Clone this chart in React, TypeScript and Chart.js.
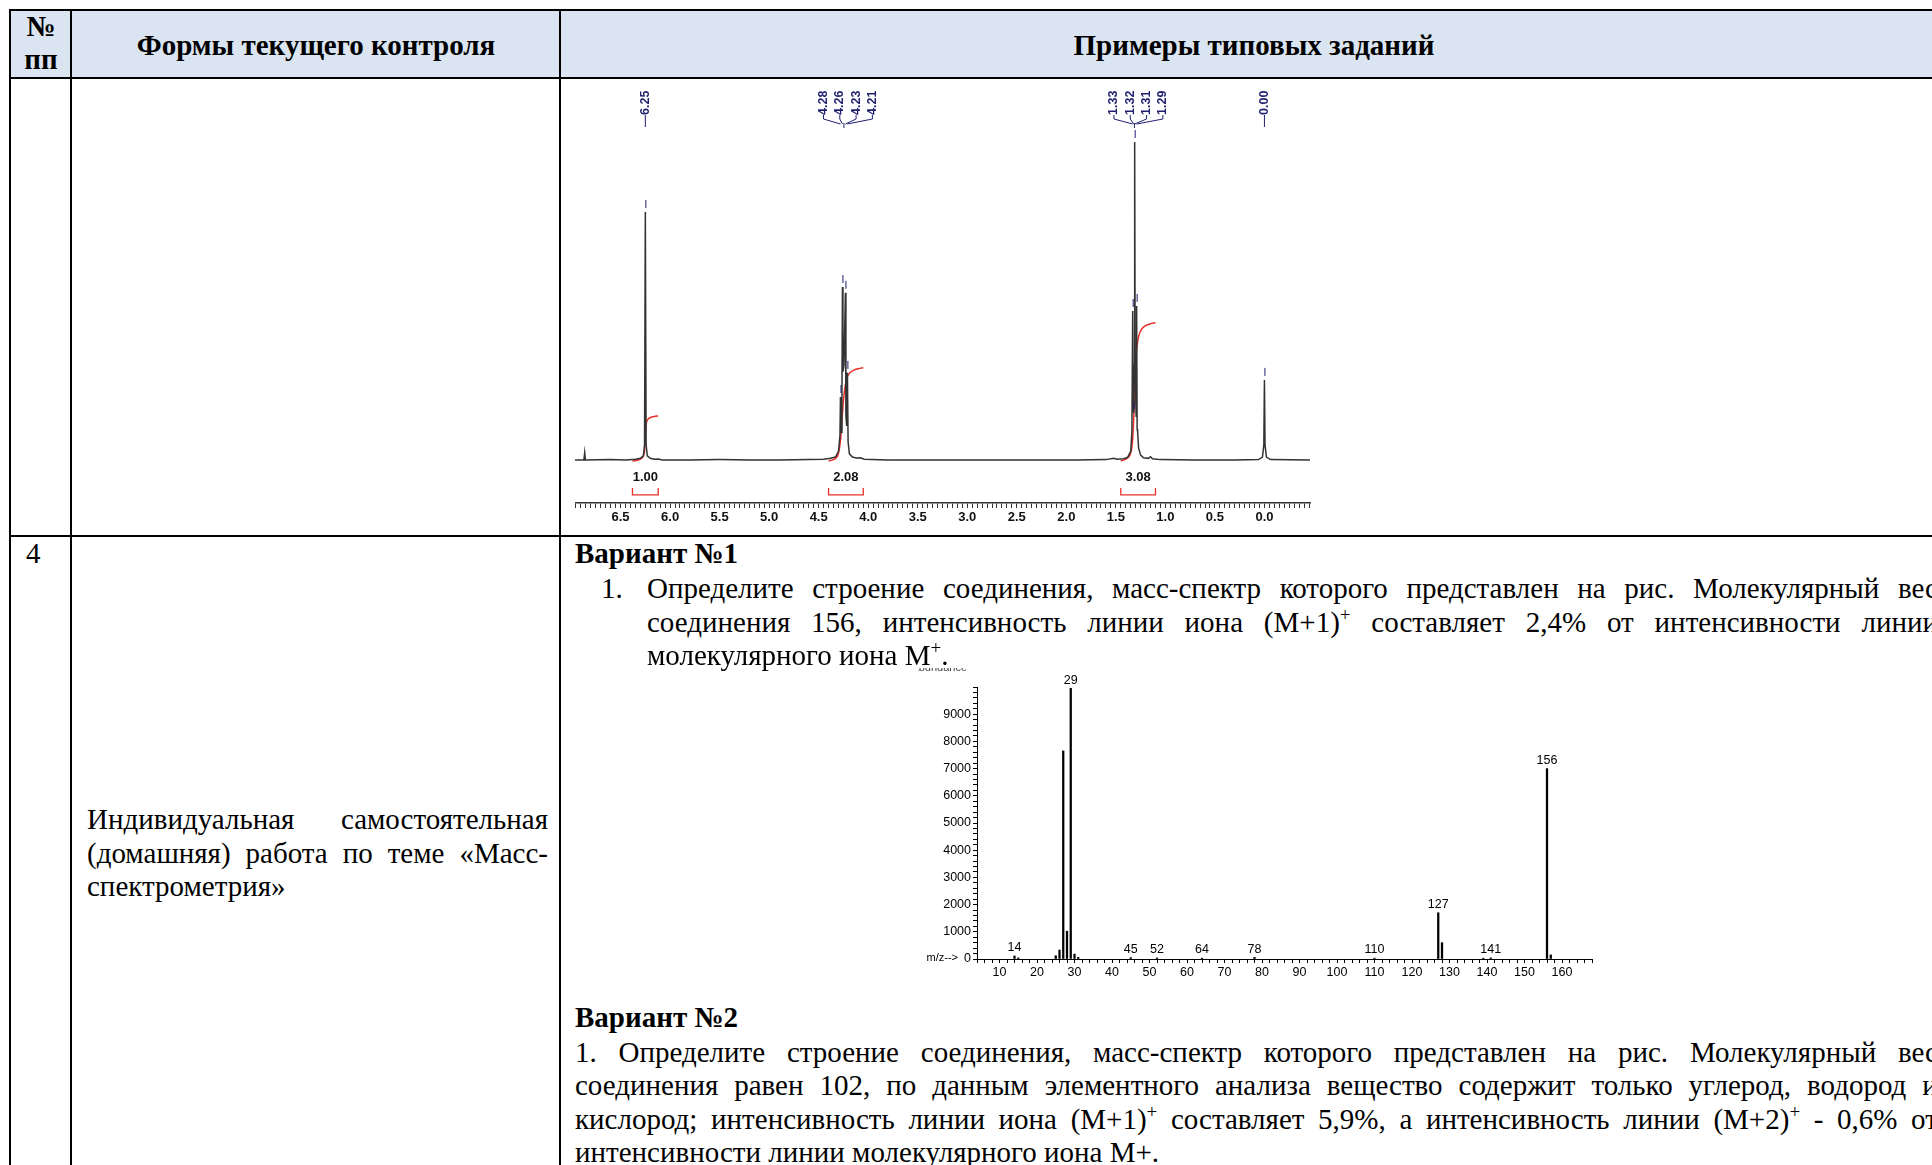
import React, { useEffect, useRef } from 'react';
import { Chart, registerables } from 'chart.js';

Chart.register(...registerables);

// ---------------- 1H NMR spectrum (row 3) ----------------
const nmrShift = [
  6.96, 6.87, 6.862, 6.855, 6.6, 6.45, 6.35, 6.3, 6.27, 6.258, 6.25, 6.242, 6.23, 6.2, 6.16, 6.12, 6.08,
  5.8, 5.5, 5.2, 4.9, 4.6, 4.45, 4.38, 4.33, 4.3, 4.285, 4.28, 4.273, 4.265, 4.26, 4.255, 4.245, 4.23,
  4.225, 4.217, 4.21, 4.203, 4.19, 4.16, 4.12, 4.08, 4.04, 3.8, 3.4, 3.0, 2.6, 2.2, 1.9, 1.6, 1.52, 1.49,
  1.42, 1.38, 1.35, 1.338, 1.33, 1.325, 1.32, 1.315, 1.31, 1.305, 1.3, 1.295, 1.29, 1.285, 1.28, 1.27,
  1.25, 1.22, 1.17, 1.15, 1.13, 1.05, 0.7, 0.3, 0.06, 0.02, 0.006, 0.0, -0.006, -0.02, -0.06, -0.46,
];
const nmrIntensity = [
  0.3, 0.3, 2.6, 0.3, 0.4, 0.3, 0.5, 0.8, 1.6, 5, 78, 5, 1.6, 0.8, 0.5, 0.6, 0.3,
  0.3, 0.4, 0.3, 0.3, 0.4, 0.5, 0.8, 1.2, 3, 8, 20, 9, 22, 54.5, 28, 30, 52.7,
  14, 11, 27.6, 6, 2.2, 1.2, 0.9, 1.0, 0.5, 0.3, 0.3, 0.3, 0.3, 0.3, 0.3, 0.4, 0.8, 0.5,
  0.7, 1.2, 3, 9, 47, 18, 15, 30, 100, 30, 20, 14, 48.6, 10, 9, 4,
  1.8, 1.0, 0.8, 1.3, 0.7, 0.4, 0.3, 0.3, 0.4, 1.2, 5, 25.4, 5, 1.2, 0.4, 0.3,
];

const integralShifts = [
  [6.38, 6.32, 6.28, 6.26, 6.253, 6.248, 6.24, 6.225, 6.2, 6.16, 6.12],
  [4.4, 4.35, 4.31, 4.29, 4.275, 4.262, 4.25, 4.235, 4.215, 4.19, 4.15, 4.1, 4.05],
  [1.45, 1.41, 1.37, 1.345, 1.33, 1.32, 1.31, 1.3, 1.29, 1.27, 1.24, 1.2, 1.15, 1.1],
];
const integralCurves = [
  [0, 0.3, 1, 2.5, 6, 9.5, 11.8, 13, 13.6, 13.95, 14.1],
  [0, 0.4, 1.5, 4, 8, 14, 19, 23, 26, 27.5, 28.4, 28.9, 29.2],
  [0, 0.4, 1.2, 3, 7, 13, 22, 30, 35, 39, 41.3, 42.4, 43, 43.3],
];
const integralRanges = [[6.38, 6.12], [4.4, 4.05], [1.45, 1.1]];
const integralLabels = ['1.00', '2.08', '3.08'];

const pickLabels = [['6.25'], ['4.28', '4.26', '4.23', '4.21'], ['1.33', '1.32', '1.31', '1.29'], ['0.00']];
const pickHeights = [[78], [20, 54.5, 52.7, 27.6], [47, 15, 100, 48.6], [25.4]];

const nmrLabeledTicks = [6.5, 6.0, 5.5, 5.0, 4.5, 4.0, 3.5, 3.0, 2.5, 2.0, 1.5, 1.0, 0.5, 0.0];

// ---------------- Mass spectrum (row 4, variant 1) ----------------
const msMz = [14, 15, 25, 26, 27, 28, 29, 30, 31, 45, 52, 64, 78, 110, 127, 128, 139, 141, 156, 157];
const msAbundance = [110, 40, 120, 330, 7650, 1020, 9950, 180, 60, 50, 40, 30, 60, 30, 1700, 600, 30, 40, 7000, 150];
const msLabeledMz = [14, 29, 45, 52, 64, 78, 110, 127, 141, 156];
const msYTickLabels = [0, 1000, 2000, 3000, 4000, 5000, 6000, 7000, 8000, 9000];
const msXTickLabels = [10, 20, 30, 40, 50, 60, 70, 80, 90, 100, 110, 120, 130, 140, 150, 160];

const NAVY = '#1f1f70';
const RED = '#e8302a';

const nmrAnnotations = {
  id: 'nmrAnnotations',
  afterDatasetsDraw(chart: any) {
    const { ctx } = chart;
    const x = chart.scales.x;
    const y = chart.scales.y;
    ctx.save();
    ctx.lineWidth = 1;
    // peak picks
    pickLabels.forEach((group, gi) => {
      const px = group.map((l) => x.getPixelForValue(parseFloat(l)));
      const n = group.length;
      const center = px.reduce((a, b) => a + b, 0) / px.length + (n > 1 ? 4 : 0);
      ctx.strokeStyle = NAVY;
      ctx.fillStyle = NAVY;
      ctx.font = 'bold 12.5px "Liberation Sans", Arial, sans-serif';
      group.forEach((label, i) => {
        const lx = n === 1 ? px[i] : center + (i - (n - 1) / 2) * 16.3;
        // marker above the peak
        const top = y.getPixelForValue(pickHeights[gi][i]);
        ctx.beginPath();
        ctx.moveTo(px[i] + 0.5, top - 12);
        ctx.lineTo(px[i] + 0.5, top - 4);
        ctx.stroke();
        // rotated label
        ctx.save();
        ctx.translate(lx, 33);
        ctx.rotate(-Math.PI / 2);
        ctx.textAlign = 'left';
        ctx.textBaseline = 'middle';
        ctx.fillText(label, 0, 0);
        ctx.restore();
        // connector
        ctx.beginPath();
        if (n === 1) {
          ctx.moveTo(lx, 33);
          ctx.lineTo(lx, 45);
        } else {
          ctx.moveTo(lx, 33);
          ctx.lineTo(lx, 37);
          ctx.lineTo(px[i], 42);
        }
        ctx.stroke();
      });
      if (n > 1) {
        const mid = px.reduce((a, b) => a + b, 0) / px.length;
        ctx.beginPath();
        ctx.moveTo(mid, 41);
        ctx.lineTo(mid, 46);
        ctx.stroke();
      }
    });
    // integrals
    const base = y.getPixelForValue(0);
    integralRanges.forEach((r, i) => {
      const x1 = x.getPixelForValue(r[0]);
      const x2 = x.getPixelForValue(r[1]);
      ctx.fillStyle = '#111';
      ctx.font = 'bold 13px "Liberation Sans", Arial, sans-serif';
      ctx.textAlign = 'center';
      ctx.textBaseline = 'middle';
      ctx.fillText(integralLabels[i], (x1 + x2) / 2, base + 17);
      ctx.strokeStyle = RED;
      ctx.lineWidth = 1.3;
      ctx.beginPath();
      ctx.moveTo(x1, base + 27);
      ctx.lineTo(x1, base + 34);
      ctx.lineTo(x2, base + 34);
      ctx.lineTo(x2, base + 27);
      ctx.stroke();
    });
    ctx.restore();
  },
};

function NmrChart() {
  const ref = useRef<HTMLCanvasElement>(null);
  useEffect(() => {
    const minorTicks: number[] = [];
    for (let k = -9; k <= 139; k++) minorTicks.push(Math.round(k * 5) / 100);
    const chart = new Chart(ref.current as HTMLCanvasElement, {
      type: 'line',
      data: {
        datasets: [
          {
            data: nmrShift.map((s, i) => ({ x: s, y: nmrIntensity[i] })),
            borderColor: '#333',
            borderWidth: 1.5,
            pointRadius: 0,
            tension: 0,
          },
          ...integralShifts.map((shifts, k) => ({
            data: shifts.map((s, i) => ({ x: s, y: integralCurves[k][i] })),
            borderColor: RED,
            borderWidth: 1.5,
            pointRadius: 0,
            tension: 0.3,
          })),
        ],
      },
      options: {
        animation: false,
        responsive: false,
        maintainAspectRatio: false,
        layout: { padding: { left: 0, right: 2, top: 0, bottom: 0 } },
        plugins: { legend: { display: false }, tooltip: { enabled: false } },
        scales: {
          x: {
            type: 'linear',
            reverse: true,
            min: -0.46,
            max: 6.96,
            grid: { display: true, drawOnChartArea: false, tickLength: 5, color: '#333' },
            border: { display: true, color: '#333', width: 1.5 },
            ticks: {
              autoSkip: false,
              maxRotation: 0,
              minRotation: 0,
              padding: 2,
              color: '#111',
              font: { family: '"Liberation Sans", Arial, sans-serif', size: 13, weight: 'bold' },
              callback: (v: any) =>
                nmrLabeledTicks.some((t) => Math.abs(t - Number(v)) < 1e-6) ? Number(v).toFixed(1) : '',
            },
            afterBuildTicks: (scale: any) => {
              scale.ticks = minorTicks.map((v) => ({ value: v }));
            },
            afterFit: (scale: any) => {
              scale.height = 29;
            },
          },
          y: { type: 'linear', display: false, min: -13.2, max: 118.8 },
        },
      },
      plugins: [nmrAnnotations],
    } as any);
    return () => chart.destroy();
  }, []);
  return (
    <canvas
      ref={ref}
      width={737}
      height={450}
      style={{ position: 'absolute', left: 575, top: 82, width: 737, height: 450 }}
    />
  );
}

const msAnnotations = {
  id: 'msAnnotations',
  afterDatasetsDraw(chart: any) {
    const { ctx, chartArea } = chart;
    const x = chart.scales.x;
    const y = chart.scales.y;
    ctx.save();
    ctx.fillStyle = '#000';
    ctx.font = '12.5px "Liberation Sans", Arial, sans-serif';
    ctx.textAlign = 'center';
    ctx.textBaseline = 'bottom';
    msLabeledMz.forEach((m) => {
      const idx = msMz.indexOf(m);
      const top = y.getPixelForValue(msAbundance[idx]);
      ctx.fillText(String(m), x.getPixelForValue(m), top - 2);
    });
    ctx.font = '11px "Liberation Sans", Arial, sans-serif';
    ctx.textAlign = 'right';
    ctx.textBaseline = 'middle';
    ctx.fillText('m/z-->', chartArea.left - 19, chartArea.bottom - 1);
    ctx.fillStyle = '#444';
    ctx.textBaseline = 'alphabetic';
    ctx.fillText('Abundance', chartArea.left - 10, 3);
    ctx.restore();
  },
};

function MsChart() {
  const ref = useRef<HTMLCanvasElement>(null);
  useEffect(() => {
    const xTicks: number[] = [];
    for (let v = 4; v <= 168; v += 2) xTicks.push(v);
    const yTicks: number[] = [];
    for (let v = 0; v <= 10000; v += 200) yTicks.push(v);
    const font = { family: '"Liberation Sans", Arial, sans-serif', size: 12.5 };
    const chart = new Chart(ref.current as HTMLCanvasElement, {
      type: 'bar',
      data: {
        datasets: [
          {
            data: msMz.map((m, i) => ({ x: m, y: msAbundance[i] })),
            backgroundColor: '#000',
            borderWidth: 0,
            barThickness: 1.6,
            grouped: false,
          },
        ],
      },
      options: {
        animation: false,
        responsive: false,
        maintainAspectRatio: false,
        layout: { padding: { left: 0, right: 16, top: 19, bottom: 0 } },
        plugins: { legend: { display: false }, tooltip: { enabled: false } },
        scales: {
          x: {
            type: 'linear',
            min: 4,
            max: 168,
            offset: false,
            grid: { display: true, offset: false, drawOnChartArea: false, tickLength: 4, color: '#000' },
            border: { display: true, color: '#000', width: 1 },
            ticks: {
              autoSkip: false,
              maxRotation: 0,
              minRotation: 0,
              padding: 2,
              color: '#000',
              font,
              callback: (v: any) => (msXTickLabels.includes(Number(v)) ? String(v) : ''),
            },
            afterBuildTicks: (scale: any) => {
              scale.ticks = xTicks.map((v) => ({ value: v }));
            },
            afterFit: (scale: any) => {
              scale.height = 27;
            },
          },
          y: {
            type: 'linear',
            min: 0,
            max: 10000,
            grid: { display: true, drawOnChartArea: false, tickLength: 4, color: '#000' },
            border: { display: true, color: '#000', width: 1 },
            ticks: {
              autoSkip: false,
              padding: 2,
              color: '#000',
              font,
              callback: (v: any) => (msYTickLabels.includes(Number(v)) ? String(v) : ''),
            },
            afterBuildTicks: (scale: any) => {
              scale.ticks = yTicks.map((v) => ({ value: v }));
            },
            afterFit: (scale: any) => {
              scale.width = 59;
            },
          },
        },
      },
      plugins: [msAnnotations],
    } as any);
    return () => chart.destroy();
  }, []);
  return (
    <canvas
      ref={ref}
      width={690}
      height={318}
      style={{ position: 'absolute', left: 918, top: 668, width: 690, height: 318 }}
    />
  );
}

// ---------------- document layout ----------------
const FONT = '"Liberation Serif", "Times New Roman", serif';
const FS = 29;
const LH = 33.5;

function renderWord(w: string, key: number) {
  const i = w.indexOf('^');
  if (i < 0) return <span key={key}>{w}</span>;
  const base = w.slice(0, i);
  const rest = w.slice(i + 1);
  const sup = rest.charAt(0);
  const tail = rest.slice(1);
  return (
    <span key={key}>
      {base}
      <span style={{ fontSize: 19, position: 'relative', top: -11 }}>{sup}</span>
      {tail}
    </span>
  );
}

function TextLine(props: {
  text: string;
  left: number;
  center: number;
  right?: number;
  justify?: boolean;
  bold?: boolean;
  align?: 'center';
}) {
  const { text, left, center, right, justify, bold, align } = props;
  const words = text.split(' ');
  const base: React.CSSProperties = {
    position: 'absolute',
    top: center - LH / 2,
    height: LH,
    lineHeight: LH + 'px',
    fontFamily: FONT,
    fontSize: FS,
    fontWeight: bold ? 'bold' : 'normal',
    color: '#000',
    whiteSpace: 'nowrap',
  };
  if (align === 'center') {
    return (
      <div style={{ ...base, left: left - 400, width: 800, textAlign: 'center' }}>
        {words.map((w, i) => (
          <React.Fragment key={i}>
            {i > 0 ? ' ' : ''}
            {renderWord(w, i)}
          </React.Fragment>
        ))}
      </div>
    );
  }
  if (justify && right !== undefined) {
    return (
      <div style={{ ...base, left, width: right - left, display: 'flex', justifyContent: 'space-between' }}>
        {words.map((w, i) => renderWord(w, i))}
      </div>
    );
  }
  return (
    <div style={{ ...base, left }}>
      {words.map((w, i) => (
        <React.Fragment key={i}>
          {i > 0 ? ' ' : ''}
          {renderWord(w, i)}
        </React.Fragment>
      ))}
    </div>
  );
}

function Rule(props: { x: number; y: number; w: number; h: number }) {
  return (
    <div
      style={{ position: 'absolute', left: props.x, top: props.y, width: props.w, height: props.h, background: '#000' }}
    />
  );
}

export default function App() {
  const R = 1938;
  return (
    <div
      style={{
        position: 'absolute',
        left: 0,
        top: 0,
        width: 1932,
        height: 1165,
        overflow: 'hidden',
        background: '#fff',
      }}
    >
      {/* header background */}
      <div style={{ position: 'absolute', left: 10, top: 10, width: 1940, height: 68, background: '#dbe5f1' }} />

      <NmrChart />
      <MsChart />

      {/* table rules */}
      <Rule x={9} y={9} w={1940} h={2} />
      <Rule x={9} y={77} w={1940} h={2} />
      <Rule x={9} y={535} w={1940} h={2} />
      <Rule x={9} y={9} w={2} h={1160} />
      <Rule x={70} y={9} w={2} h={1160} />
      <Rule x={559} y={9} w={2} h={1160} />

      {/* header */}
      <TextLine text="№" left={41} center={27} align="center" bold />
      <TextLine text="пп" left={41} center={60} align="center" bold />
      <TextLine text="Формы текущего контроля" left={316} center={46} align="center" bold />
      <TextLine text="Примеры типовых заданий" left={1254} center={46} align="center" bold />

      {/* row 4 */}
      <TextLine text="4" left={26} center={554} />
      <TextLine text="Индивидуальная самостоятельная" left={87} right={548} center={820} justify />
      <TextLine text="(домашняя) работа по теме «Масс-" left={87} right={548} center={853.5} justify />
      <TextLine text="спектрометрия»" left={87} center={887} />

      <TextLine text="Вариант №1" left={575} center={554} bold />
      <TextLine text="1." left={601} center={589} />
      <TextLine
        text="Определите строение соединения, масс-спектр которого представлен на рис. Молекулярный вес"
        left={647}
        right={R}
        center={589}
        justify
      />
      <TextLine
        text="соединения 156, интенсивность линии иона (M+1)^+ составляет 2,4% от интенсивности линии"
        left={647}
        right={R}
        center={622.5}
        justify
      />
      <TextLine text="молекулярного иона M^+." left={647} center={656} />

      <TextLine text="Вариант №2" left={575} center={1018} bold />
      <TextLine
        text="1. Определите строение соединения, масс-спектр которого представлен на рис. Молекулярный вес"
        left={575}
        right={R}
        center={1052.5}
        justify
      />
      <TextLine
        text="соединения равен 102, по данным элементного анализа вещество содержит только углерод, водород и"
        left={575}
        right={R}
        center={1086}
        justify
      />
      <TextLine
        text="кислород; интенсивность линии иона (M+1)^+ составляет 5,9%, а интенсивность линии (M+2)^+ - 0,6% от"
        left={575}
        right={R}
        center={1119.5}
        justify
      />
      <TextLine text="интенсивности линии молекулярного иона M+." left={575} center={1153} />
    </div>
  );
}
